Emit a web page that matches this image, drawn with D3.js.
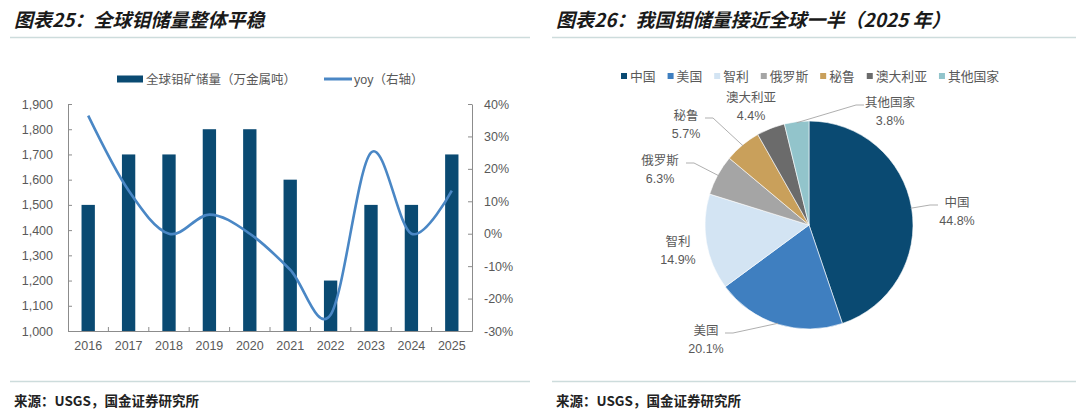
<!DOCTYPE html>
<html>
<head>
<meta charset="utf-8">
<script src="https://cdn.jsdelivr.net/npm/d3@7"></script>
<style>
  body { margin: 0; background: #fff; }
  text { font-family: "Liberation Sans", "Noto Sans CJK SC", sans-serif; }
</style>
</head>
<body>
<svg id="chart" width="1080" height="416"></svg>
<script>
// ---- data ----
var years = ["2016", "2017", "2018", "2019", "2020", "2021", "2022", "2023", "2024", "2025"];
var reserves = [1500, 1700, 1700, 1800, 1800, 1600, 1200, 1500, 1500, 1700];   // 万金属吨
var yoy = [0.364, 0.133, 0, 0.059, 0, -0.111, -0.25, 0.25, 0, 0.133];
var leftTicks = [1000, 1100, 1200, 1300, 1400, 1500, 1600, 1700, 1800, 1900];
var rightTicks = [-0.3, -0.2, -0.1, 0, 0.1, 0.2, 0.3, 0.4];

var countries = ["中国", "美国", "智利", "俄罗斯", "秘鲁", "澳大利亚", "其他国家"];
var shares = [44.8, 20.1, 14.9, 6.3, 5.7, 4.4, 3.8];
var pieColors = ["#0a4a72", "#3f7fc0", "#d3e4f3", "#a5a5a5", "#c9a05b", "#6b6b6b", "#92c4cb"];

// label spots, relative to pie centre (Excel labels were dragged by hand)
var labelOffset = [[148, -14], [-103, 114], [-131, 25], [-149, -56], [-123, -101], [-58, -119], [81, -114]];
var hasLeader = [true, true, false, true, true, false, true];

var svg = d3.select("#chart");
var textColor = "#595959";
var axisColor = "#8c8c8c";

// ---- titles, rules and sources ----
function header(x, x2, title) {
  svg.append("text")
    .attr("x", x).attr("y", 27)
    .style("font-family", "'Noto Sans CJK SC'")
    .attr("font-size", 19).attr("font-weight", "bold").attr("font-style", "italic")
    .attr("fill", "#1a1a1a")
    .text(title);
  svg.append("line")
    .attr("x1", x - 4).attr("x2", x2).attr("y1", 37.5).attr("y2", 37.5)
    .attr("stroke", "#cddcdc").attr("stroke-width", 1.5);
  svg.append("line")
    .attr("x1", x - 4).attr("x2", x2).attr("y1", 381.5).attr("y2", 381.5)
    .attr("stroke", "#cddcdc").attr("stroke-width", 1.5);
  svg.append("text")
    .attr("x", x).attr("y", 406)
    .style("font-family", "'Noto Sans CJK SC'")
    .attr("font-size", 13.5).attr("font-weight", "bold")
    .attr("fill", "#222")
    .text("来源：USGS，国金证券研究所");
}
header(14, 530, "图表25：全球钼储量整体平稳");
header(556, 1076, "图表26：我国钼储量接近全球一半（2025 年）");

// ---- left: bars + yoy line ----
var x = d3.scaleBand().domain(years).range([68, 472]);
var yL = d3.scaleLinear().domain([1000, 1900]).range([331, 104]);
var yR = d3.scaleLinear().domain([-0.3, 0.4]).range([331, 104]);
var barW = x.bandwidth() * 0.33;

var left = svg.append("g");

left.selectAll("rect.bar")
  .data(reserves)
  .join("rect")
  .attr("class", "bar")
  .attr("x", function(d, i) { return x(years[i]) + (x.bandwidth() - barW) / 2; })
  .attr("y", function(d) { return yL(d); })
  .attr("width", barW)
  .attr("height", function(d) { return yL(1000) - yL(d); })
  .attr("fill", "#0a4a72");

var line = d3.line()
  .x(function(d, i) { return x(years[i]) + x.bandwidth() / 2; })
  .y(function(d) { return yR(d); })
  .curve(d3.curveCardinal.tension(0));

left.append("path")
  .datum(yoy)
  .attr("d", line)
  .attr("fill", "none")
  .attr("stroke", "#4a87c5")
  .attr("stroke-width", 2.6);

// axes
var axL = left.append("g").attr("transform", "translate(68,0)")
  .call(d3.axisLeft(yL).tickValues(leftTicks).tickSize(-4).tickSizeOuter(0).tickPadding(15)
    .tickFormat(d3.format(",")));
var axR = left.append("g").attr("transform", "translate(472,0)")
  .call(d3.axisRight(yR).tickValues(rightTicks).tickSize(-4).tickSizeOuter(0).tickPadding(12)
    .tickFormat(function(d) { return Math.round(d * 100) + "%"; }));
var axB = left.append("g").attr("transform", "translate(0,331)")
  .call(d3.axisBottom(x).tickSize(0).tickSizeOuter(0).tickPadding(10));

// category boundary ticks on the x axis
axB.selectAll("line.sep")
  .data(years.slice(1))
  .join("line")
  .attr("class", "sep")
  .attr("x1", function(d) { return x(d); })
  .attr("x2", function(d) { return x(d); })
  .attr("y1", 0).attr("y2", -4);

[axL, axR, axB].forEach(function(g) {
  g.selectAll("path, line").attr("stroke", axisColor);
  g.selectAll("text").attr("fill", textColor).attr("font-size", 12.5);
});

// legend
var lgL = left.append("g").attr("transform", "translate(117,79)");
lgL.append("rect").attr("x", 0).attr("y", -3.5).attr("width", 26).attr("height", 7).attr("fill", "#0a4a72");
lgL.append("text").attr("x", 29).attr("y", 4.5).attr("font-size", 12.5).attr("fill", textColor)
  .text("全球钼矿储量（万金属吨）");
lgL.append("line").attr("x1", 207).attr("x2", 235).attr("y1", 0).attr("y2", 0)
  .attr("stroke", "#4a87c5").attr("stroke-width", 3);
lgL.append("text").attr("x", 237).attr("y", 4.5).attr("font-size", 12.5).attr("fill", textColor)
  .text("yoy（右轴）");

// ---- right: pie ----
var cx = 809, cy = 225, r = 104;
var pie = d3.pie().sort(null).value(function(d) { return d; });
var arcs = pie(shares);
var arc = d3.arc().innerRadius(0).outerRadius(r);

var right = svg.append("g").attr("transform", "translate(" + cx + "," + cy + ")");
right.selectAll("path.slice")
  .data(arcs)
  .join("path")
  .attr("class", "slice")
  .attr("d", arc)
  .attr("fill", function(d, i) { return pieColors[i]; })
  .attr("stroke", "#fff")
  .attr("stroke-width", 0.6);

// labels
var lab = right.selectAll("g.lab")
  .data(arcs)
  .join("g")
  .attr("class", "lab")
  .attr("transform", function(d, i) { return "translate(" + labelOffset[i][0] + "," + labelOffset[i][1] + ")"; });
lab.append("text").attr("text-anchor", "middle").attr("y", -4)
  .attr("font-size", 12.5).attr("fill", textColor)
  .text(function(d, i) { return countries[i]; });
lab.append("text").attr("text-anchor", "middle").attr("y", 14)
  .attr("font-size", 12.5).attr("fill", textColor)
  .text(function(d, i) { return shares[i].toFixed(1) + "%"; });

// leader lines from label to slice edge
right.selectAll("polyline.leader")
  .data(arcs.filter(function(d, i) { return hasLeader[i]; }))
  .join("polyline")
  .attr("class", "leader")
  .attr("fill", "none")
  .attr("stroke", "#a6a6a6")
  .attr("stroke-width", 0.9)
  .attr("points", function(d) {
    var i = d.index;
    var mid = (d.startAngle + d.endAngle) / 2;
    var px = Math.sin(mid) * (r - 1), py = -Math.cos(mid) * (r - 1);
    var lx = labelOffset[i][0], ly = labelOffset[i][1] - 6;
    var half = (countries[i].length > 2 ? 26 : 19);
    var side = px > lx ? 1 : -1;
    var sx = lx + side * half, ex = sx + side * 8;
    return [[sx, ly], [ex, ly], [px, py]].map(function(p) { return p.join(","); }).join(" ");
  });

// pie legend
var lgR = svg.append("g").attr("transform", "translate(621,76)");
var lx = 0;
countries.forEach(function(c, i) {
  var g = lgR.append("g").attr("transform", "translate(" + lx + ",0)");
  g.append("rect").attr("x", 0).attr("y", -3).attr("width", 6).attr("height", 6).attr("fill", pieColors[i]);
  var t = g.append("text").attr("x", 9).attr("y", 4.5).attr("font-size", 12.8).attr("fill", textColor).text(c);
  lx += 9 + t.node().getComputedTextLength() + 12;
});
</script>
</body>
</html>
